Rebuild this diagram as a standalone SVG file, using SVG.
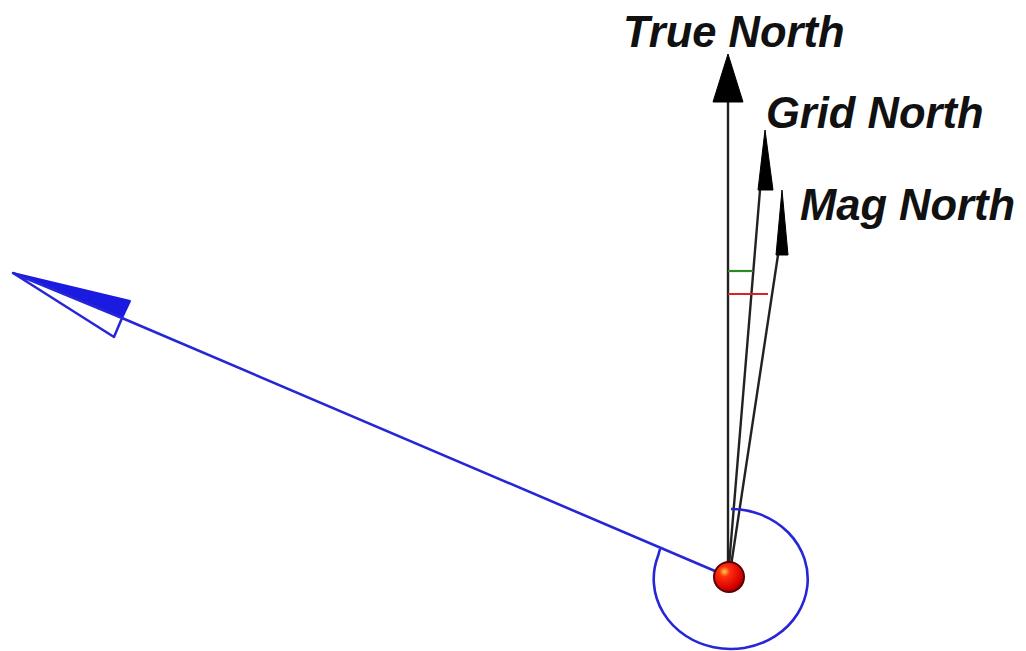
<svg xmlns="http://www.w3.org/2000/svg" width="1026" height="651" viewBox="0 0 1026 651">
<defs>
<style>
.lbl{font-family:"Liberation Sans",Arial,sans-serif;font-weight:bold;font-style:italic;font-size:43.5px;fill:#111}
.nl{stroke:#222;stroke-width:2.4;fill:none}
.head{fill:#000;stroke:#000;stroke-width:1}
.blue{stroke:#2626d6;stroke-width:2.6;fill:none}
</style>
<radialGradient id="ballg" cx="0.35" cy="0.32" r="0.7">
<stop offset="0" stop-color="#ffd040"/>
<stop offset="0.25" stop-color="#ff3010"/>
<stop offset="0.8" stop-color="#d80000"/>
<stop offset="1" stop-color="#a00000"/>
</radialGradient>
</defs>
<rect width="1026" height="651" fill="#fff"/>
<g id="connectors">
<line class="nl" x1="728" y1="100" x2="728" y2="570"/>
<line class="nl" x1="760" y1="190" x2="729" y2="566"/>
<line class="nl" x1="778" y1="255" x2="731" y2="566"/>
<line stroke="#2a8a2a" stroke-width="2.2" x1="728" y1="271" x2="753" y2="271"/>
<line stroke="#e02020" stroke-width="2.2" x1="728" y1="294" x2="768" y2="294"/>
<line class="blue" x1="729" y1="577" x2="122" y2="318"/>
<path class="blue" d="M731,509 A77,70 0 1 1 658,556 L660,549"/>
</g>
<g id="true-north">
<polygon class="head" points="728,54 713,102 743,102"/>
<text class="lbl" x="623" y="47">True North</text>
</g>
<g id="grid-north">
<polygon class="head" points="765,130 758,190 773,190"/>
<text class="lbl" x="766" y="128">Grid North</text>
</g>
<g id="mag-north">
<polygon class="head" points="782,190 776,255 788,255"/>
<text class="lbl" x="800" y="220">Mag North</text>
</g>
<g id="bearing-arrow">
<polygon points="13,273 130,301 122,318" fill="#1a1ae0" stroke="#1a1ae0" stroke-width="2" stroke-linejoin="round"/>
<polygon points="13,273 122,318 114,337" fill="#fff" stroke="#2626d6" stroke-width="2.5" stroke-linejoin="round"/>
</g>
<g id="origin">
<circle cx="729" cy="577" r="15" fill="url(#ballg)" stroke="#5a0000" stroke-width="2"/>
</g>
</svg>
